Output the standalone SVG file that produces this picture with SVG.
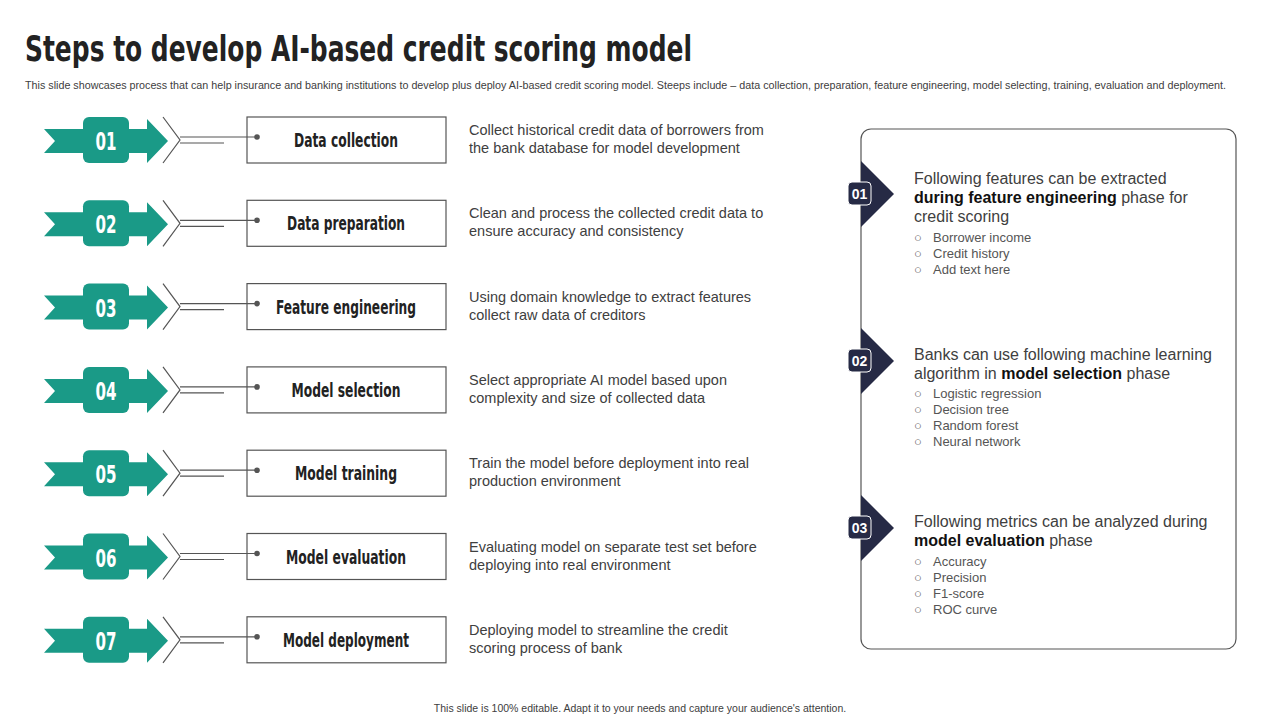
<svg xmlns="http://www.w3.org/2000/svg" width="1280" height="720" viewBox="0 0 1280 720">
<defs>
<style>
.cond{font-family:"DejaVu Sans Condensed","DejaVu Sans",sans-serif;font-weight:bold;font-stretch:condensed}
.t{font-family:"Liberation Sans",Arial,sans-serif;fill:#404040}
.g{fill:#1a9a87}
.ln{stroke:#555;stroke-width:1.2;fill:none}
.box{fill:#fff;stroke:#555;stroke-width:1.2}
.nv{fill:#262a45}
.b{font-family:"Liberation Sans",Arial,sans-serif;font-size:13px;fill:#555}
</style>
<g id="step">
<path class="g" d="M44,129 H84 V153 H44 L55,141 Z"/>
<rect class="g" x="83" y="117" width="46" height="46" rx="6"/>
<path class="g" d="M128,129 H147 V119 L168,141 L147,163 V153 H128 Z"/>
<path class="ln" d="M163,117 L180,140 L163,163"/>
</g>
</defs>
<rect width="1280" height="720" fill="#fff"/>
<text x="25" y="61" class="cond" font-size="36" fill="#222" textLength="667" lengthAdjust="spacingAndGlyphs">Steps to develop AI-based credit scoring model</text>
<text x="25" y="89" class="t" font-size="10" fill="#444" textLength="1201" lengthAdjust="spacingAndGlyphs">This slide showcases process that can help insurance and banking institutions to develop plus deploy AI-based credit scoring model. Steeps include – data collection, preparation, feature engineering, model selecting, training, evaluation and deployment.</text>

<g id="s1" transform="translate(0,0)"><use href="#step"/><text x="106" y="150" class="cond" font-size="24" fill="#fff" text-anchor="middle" textLength="21" lengthAdjust="spacingAndGlyphs">01</text><rect class="box" x="247" y="117" width="199" height="46"/><text x="346" y="147" class="cond" font-size="19" fill="#222" text-anchor="middle" textLength="104" lengthAdjust="spacingAndGlyphs">Data collection</text><text class="t" font-size="14.5" x="469" y="135">Collect historical credit data of borrowers from<tspan x="469" dy="18">the bank database for model development</tspan></text></g>
<g id="s2" transform="translate(0,83.3)"><use href="#step"/><text x="106" y="150" class="cond" font-size="24" fill="#fff" text-anchor="middle" textLength="21" lengthAdjust="spacingAndGlyphs">02</text><rect class="box" x="247" y="117" width="199" height="46"/><text x="346" y="147" class="cond" font-size="19" fill="#222" text-anchor="middle" textLength="118" lengthAdjust="spacingAndGlyphs">Data preparation</text><text class="t" font-size="14.5" x="469" y="135">Clean and process the collected credit data to<tspan x="469" dy="18">ensure accuracy and consistency</tspan></text></g>
<g id="s3" transform="translate(0,166.6)"><use href="#step"/><text x="106" y="150" class="cond" font-size="24" fill="#fff" text-anchor="middle" textLength="21" lengthAdjust="spacingAndGlyphs">03</text><rect class="box" x="247" y="117" width="199" height="46"/><text x="346" y="147" class="cond" font-size="19" fill="#222" text-anchor="middle" textLength="140" lengthAdjust="spacingAndGlyphs">Feature engineering</text><text class="t" font-size="14.5" x="469" y="135">Using domain knowledge to extract features<tspan x="469" dy="18">collect raw data of creditors</tspan></text></g>
<g id="s4" transform="translate(0,249.9)"><use href="#step"/><text x="106" y="150" class="cond" font-size="24" fill="#fff" text-anchor="middle" textLength="21" lengthAdjust="spacingAndGlyphs">04</text><rect class="box" x="247" y="117" width="199" height="46"/><text x="346" y="147" class="cond" font-size="19" fill="#222" text-anchor="middle" textLength="109" lengthAdjust="spacingAndGlyphs">Model selection</text><text class="t" font-size="14.5" x="469" y="135">Select appropriate AI model based upon<tspan x="469" dy="18">complexity and size of collected data</tspan></text></g>
<g id="s5" transform="translate(0,333.2)"><use href="#step"/><text x="106" y="150" class="cond" font-size="24" fill="#fff" text-anchor="middle" textLength="21" lengthAdjust="spacingAndGlyphs">05</text><rect class="box" x="247" y="117" width="199" height="46"/><text x="346" y="147" class="cond" font-size="19" fill="#222" text-anchor="middle" textLength="102" lengthAdjust="spacingAndGlyphs">Model training</text><text class="t" font-size="14.5" x="469" y="135">Train the model before deployment into real<tspan x="469" dy="18">production environment</tspan></text></g>
<g id="s6" transform="translate(0,416.5)"><use href="#step"/><text x="106" y="150" class="cond" font-size="24" fill="#fff" text-anchor="middle" textLength="21" lengthAdjust="spacingAndGlyphs">06</text><rect class="box" x="247" y="117" width="199" height="46"/><text x="346" y="147" class="cond" font-size="19" fill="#222" text-anchor="middle" textLength="120" lengthAdjust="spacingAndGlyphs">Model evaluation</text><text class="t" font-size="14.5" x="469" y="135">Evaluating model on separate test set before<tspan x="469" dy="18">deploying into real environment</tspan></text></g>
<g id="s7" transform="translate(0,499.8)"><use href="#step"/><text x="106" y="150" class="cond" font-size="24" fill="#fff" text-anchor="middle" textLength="21" lengthAdjust="spacingAndGlyphs">07</text><rect class="box" x="247" y="117" width="199" height="46"/><text x="346" y="147" class="cond" font-size="19" fill="#222" text-anchor="middle" textLength="126" lengthAdjust="spacingAndGlyphs">Model deployment</text><text class="t" font-size="14.5" x="469" y="135">Deploying model to streamline the credit<tspan x="469" dy="18">scoring process of bank</tspan></text></g>

<g id="connectors">
<g transform="translate(0,0)"><path class="ln" d="M180,137 H257 M180,143 H224"/><circle cx="257" cy="137" r="2.8" fill="#555"/></g>
<g transform="translate(0,83.3)"><path class="ln" d="M180,137 H257 M180,143 H224"/><circle cx="257" cy="137" r="2.8" fill="#555"/></g>
<g transform="translate(0,166.6)"><path class="ln" d="M180,137 H257 M180,143 H224"/><circle cx="257" cy="137" r="2.8" fill="#555"/></g>
<g transform="translate(0,249.9)"><path class="ln" d="M180,137 H257 M180,143 H224"/><circle cx="257" cy="137" r="2.8" fill="#555"/></g>
<g transform="translate(0,333.2)"><path class="ln" d="M180,137 H257 M180,143 H224"/><circle cx="257" cy="137" r="2.8" fill="#555"/></g>
<g transform="translate(0,416.5)"><path class="ln" d="M180,137 H257 M180,143 H224"/><circle cx="257" cy="137" r="2.8" fill="#555"/></g>
<g transform="translate(0,499.8)"><path class="ln" d="M180,137 H257 M180,143 H224"/><circle cx="257" cy="137" r="2.8" fill="#555"/></g>
</g>

<g id="panel">
<rect x="861" y="129" width="375" height="520" rx="10" fill="#fff" stroke="#555" stroke-width="1.2"/>
<g id="p1">
<path class="nv" d="M861,161 L894,194 L861,227 Z"/><rect class="nv" x="848" y="182" width="23" height="23" rx="4"/><rect x="848" y="182" width="23" height="23" rx="4" fill="none" stroke="#fff" stroke-width="1"/>
<text x="859.5" y="199" font-family="Liberation Sans,Arial,sans-serif" font-weight="bold" font-size="14" fill="#fff" text-anchor="middle">01</text>
<text class="t" font-size="16" fill="#222" x="914" y="184">Following features can be extracted<tspan x="914" dy="19"><tspan font-weight="bold" fill="#111">during feature engineering</tspan> phase for</tspan><tspan x="914" dy="19">credit scoring</tspan></text>
<text class="b" x="914" y="242">○</text><text class="b" x="933" y="242">Borrower  income</text>
<text class="b" x="914" y="258">○</text><text class="b" x="933" y="258">Credit history</text>
<text class="b" x="914" y="274">○</text><text class="b" x="933" y="274">Add text here</text>
</g>
<g id="p2">
<path class="nv" d="M861,328 L894,361 L861,394 Z"/><rect class="nv" x="848" y="349" width="23" height="23" rx="4"/><rect x="848" y="349" width="23" height="23" rx="4" fill="none" stroke="#fff" stroke-width="1"/>
<text x="859.5" y="366" font-family="Liberation Sans,Arial,sans-serif" font-weight="bold" font-size="14" fill="#fff" text-anchor="middle">02</text>
<text class="t" font-size="16" fill="#222" x="914" y="360">Banks can use following machine learning<tspan x="914" dy="19">algorithm in <tspan font-weight="bold" fill="#111">model selection</tspan> phase</tspan></text>
<text class="b" x="914" y="398">○</text><text class="b" x="933" y="398">Logistic regression</text>
<text class="b" x="914" y="414">○</text><text class="b" x="933" y="414">Decision tree</text>
<text class="b" x="914" y="430">○</text><text class="b" x="933" y="430">Random forest</text>
<text class="b" x="914" y="446">○</text><text class="b" x="933" y="446">Neural network</text>
</g>
<g id="p3">
<path class="nv" d="M861,495 L894,528 L861,561 Z"/><rect class="nv" x="848" y="516" width="23" height="23" rx="4"/><rect x="848" y="516" width="23" height="23" rx="4" fill="none" stroke="#fff" stroke-width="1"/>
<text x="859.5" y="533" font-family="Liberation Sans,Arial,sans-serif" font-weight="bold" font-size="14" fill="#fff" text-anchor="middle">03</text>
<text class="t" font-size="16" fill="#222" x="914" y="527">Following metrics can be analyzed during<tspan x="914" dy="19"><tspan font-weight="bold" fill="#111">model evaluation</tspan> phase</tspan></text>
<text class="b" x="914" y="566">○</text><text class="b" x="933" y="566">Accuracy</text>
<text class="b" x="914" y="582">○</text><text class="b" x="933" y="582">Precision</text>
<text class="b" x="914" y="598">○</text><text class="b" x="933" y="598">F1-score</text>
<text class="b" x="914" y="614">○</text><text class="b" x="933" y="614">ROC curve</text>
</g>
</g>
<text x="640" y="712" class="t" font-size="10.5" fill="#444" text-anchor="middle">This slide is 100% editable. Adapt it to your needs and capture your audience's attention.</text>
</svg>
